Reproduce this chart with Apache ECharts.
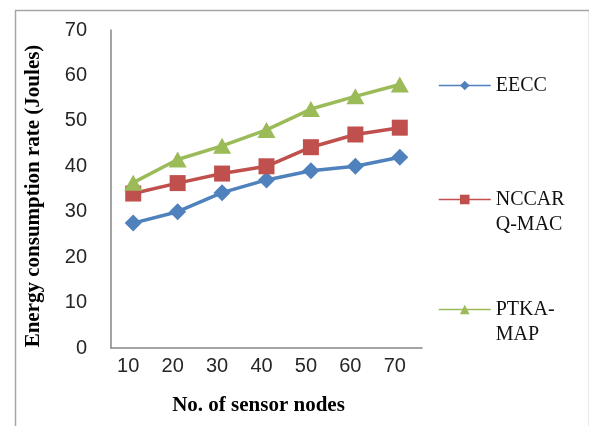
<!DOCTYPE html>
<html>
<head>
<meta charset="utf-8">
<script src="https://cdn.jsdelivr.net/npm/echarts@6/dist/echarts.min.js"></script>
<style>
  html, body { margin: 0; padding: 0; background: #fff; }
  #chart { width: 589px; height: 426px; }
</style>
</head>
<body>
<div id="chart"></div>
<script>
// Number of sensor nodes on the x axis
const nodeCounts = ['10', '20', '30', '40', '50', '60', '70'];

// Energy consumption rate (Joules) per protocol
const eecc = [27.5, 30, 34.2, 37, 39, 40, 42];
const nccarQmac = [34, 36.3, 38.4, 40, 44.2, 47, 48.5];
const ptkaMap = [36.4, 41.5, 44.5, 48, 52.6, 55.4, 58];

const seriesNames = ['EECC', 'NCCAR\nQ-MAC', 'PTKA-\nMAP'];
const colors = ['#4F81BD', '#C0504D', '#9BBB59'];

const serifFont = '"Liberation Serif", "Times New Roman", serif';

function legendFor(name, top) {
  const multi = name.indexOf('\n') >= 0;
  return {
    orient: 'vertical',
    left: 433,
    top: top,
    data: [name],
    itemWidth: 52,
    itemHeight: 12,
    itemGap: 0,
    lineStyle: { width: 1.5 },
    // the leading blank line keeps the marker beside the first text line
    formatter: n => multi ? ' \n' + n : n,
    textStyle: {
      fontFamily: serifFont,
      fontSize: 20,
      color: '#111',
      lineHeight: 25
    }
  };
}

const chart = echarts.init(document.getElementById('chart'), null, { renderer: 'canvas' });

chart.setOption({
  backgroundColor: '#fff',
  animation: false,
  color: colors,
  graphic: [{
    type: 'rect',
    left: 13, top: 8,
    shape: { width: 574, height: 430 },
    style: { fill: 'none', stroke: '#a6a6a6', lineWidth: 1.5 },
    silent: true
  }],
  legend: [
    legendFor(seriesNames[0], 68),
    legendFor(seriesNames[1], 157),
    legendFor(seriesNames[2], 267)
  ],
  grid: { left: 111, right: 167, top: 30, bottom: 78, containLabel: false },
  xAxis: {
    type: 'category',
    data: nodeCounts,
    boundaryGap: true,
    name: 'No. of sensor nodes',
    nameLocation: 'middle',
    nameGap: 47,
    nameTextStyle: {
      fontFamily: serifFont, fontWeight: 'bold', fontSize: 21, color: '#000',
      padding: [0, 16, 0, 0]
    },
    axisLine: { lineStyle: { color: '#868686', width: 1.5 } },
    axisTick: { show: false },
    axisLabel: {
      fontFamily: '"Liberation Sans", Arial, sans-serif',
      fontSize: 20, color: '#262626', margin: 8,
      padding: [0, 10, 0, 0]
    },
    splitLine: { show: false }
  },
  yAxis: {
    type: 'value',
    min: 0, max: 70, interval: 10,
    name: 'Energy consumption rate (Joules)',
    nameLocation: 'middle',
    nameGap: 67,
    nameTextStyle: {
      fontFamily: serifFont, fontWeight: 'bold', fontSize: 21, color: '#000',
      padding: [0, 14, 0, 0]
    },
    axisLine: { show: true, lineStyle: { color: '#868686', width: 1.5 } },
    axisTick: { show: false },
    axisLabel: {
      fontFamily: '"Liberation Sans", Arial, sans-serif',
      fontSize: 20, color: '#262626', margin: 24
    },
    splitLine: { show: false }
  },
  series: [
    {
      name: seriesNames[0], type: 'line', data: eecc,
      symbol: 'diamond', symbolSize: 17,
      lineStyle: { width: 3.5 }, itemStyle: { color: colors[0] }
    },
    {
      name: seriesNames[1], type: 'line', data: nccarQmac,
      symbol: 'rect', symbolSize: 16,
      lineStyle: { width: 3.5 }, itemStyle: { color: colors[1] }
    },
    {
      name: seriesNames[2], type: 'line', data: ptkaMap,
      symbol: 'triangle', symbolSize: [18, 16],
      lineStyle: { width: 3.5 }, itemStyle: { color: colors[2] }
    }
  ]
});
</script>
</body>
</html>
